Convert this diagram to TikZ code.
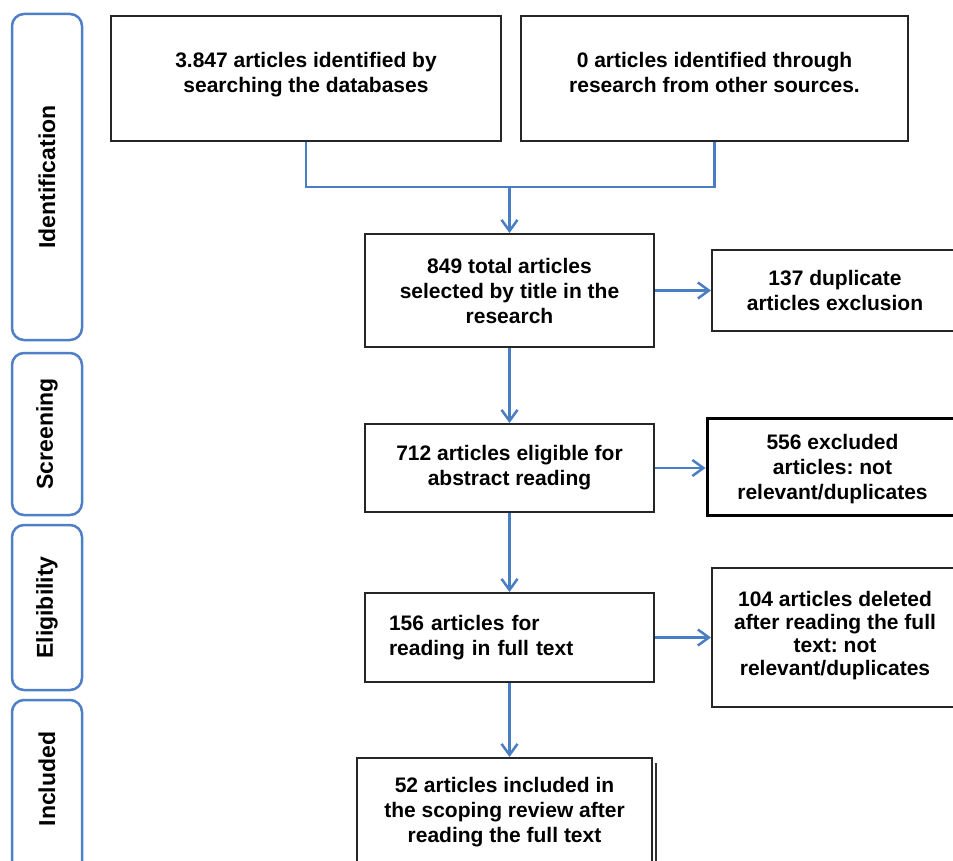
\documentclass[tikz,border=0pt]{standalone}
\usepackage{fontspec}
\setmainfont{Liberation Sans}
\usetikzlibrary{arrows.meta}
\definecolor{flowblue}{HTML}{4A7EC4}
\definecolor{barblue}{HTML}{4F7FC6}
\frenchspacing
\begin{document}
\begin{tikzpicture}[x=1pt,y=-1pt,
  box/.style={draw=black!85, line width=2pt, fill=white, font=\fontsize{21}{25}\selectfont\bfseries, align=center, inner sep=0pt},
  phase/.style={draw=barblue, line width=2.5pt, rounded corners=12pt, fill=white, inner sep=0pt},
  phaselabel/.style={rotate=90, font=\fontsize{23}{27}\selectfont\bfseries, inner sep=0pt},
  flow/.style={draw=flowblue, line width=2.5pt, -{Straight Barb[length=11pt,width=16pt,line width=2.5pt]}},
  link/.style={draw=flowblue, line width=2.5pt}]
\useasboundingbox (0,0) rectangle (953,861);
\clip (0,0) rectangle (953,861);
\fill[white] (0,0) rectangle (953,861);

% phase bars
\node[phase, phaselabel, minimum width=326pt, minimum height=70pt] (pid) at (47,177) {Identification};
\node[phase, phaselabel, minimum width=162pt, minimum height=70pt] (pscr) at (47,434) {Screening};
\node[phase, phaselabel, minimum width=165pt, minimum height=70pt] (pelig) at (47,607.5) {Eligibility};
\node[phase, rotate=90, minimum width=180pt, minimum height=70pt] (pinc) at (47,790) {};
\node[phaselabel] (pinclabel) at (47,779) {Included};

% boxes
\node[box, minimum width=390pt, minimum height=125pt] (a) at (306,78.5) {3.847 articles identified by\\searching the databases\\[-12pt]\mbox{}};
\node[box, minimum width=387pt, minimum height=125pt] (b) at (714.5,78.5) {0 articles identified through\\research from other sources.\\[-12pt]\mbox{}};
\node[box, minimum width=289pt, minimum height=113pt] (c) at (509.5,290.5) {849 total articles\\selected by title in the\\research};
\node[box, minimum width=246pt, minimum height=81pt] (d) at (835,290.5) {137 duplicate\\articles exclusion};
\node[box, minimum width=289pt, minimum height=88pt] (e) at (509.5,468) {712 articles eligible for\\abstract reading};
\node[box, line width=3pt, draw=black, minimum width=251pt, minimum height=97pt] (f) at (832.5,466.5) {\rule{0pt}{21pt}556 excluded\\articles: not\\relevant/duplicates};
\node[box, align=left, text width=241pt, inner xsep=24pt, minimum height=89pt] (g) at (509.5,637.5) {156 articles for\\reading in full text};
\node[box, font=\fontsize{21}{23}\selectfont\bfseries, minimum width=246pt, minimum height=139pt] (h) at (835,637.5) {104 articles deleted\\after reading the full\\text: not\\relevant/duplicates\\[-14pt]\mbox{}};
\node[box, minimum width=295pt, minimum height=108pt] (i) at (504.5,812) {52 articles included in\\the scoping review after\\reading the full text};
\draw[black!80, line width=1.5pt] ([xshift=3pt,yshift=-6pt]i.north east) -- ([xshift=3pt]i.south east);

% connectors
\coordinate (m) at (509.5,187);
\draw[link] (a.south) |- (m) -| (b.south);
\draw[flow] (m) -- (c.north);
\draw[flow] (c.east) -- (d.west);
\draw[flow] (c.south) -- (e.north);
\draw[flow] (e.east) -- (e.east -| f.west);
\draw[flow] (e.south) -- (g.north);
\draw[flow] (g.east) -- (g.east -| h.west);
\draw[flow] (g.south) -- (g.south |- i.north);
\end{tikzpicture}
\end{document}
